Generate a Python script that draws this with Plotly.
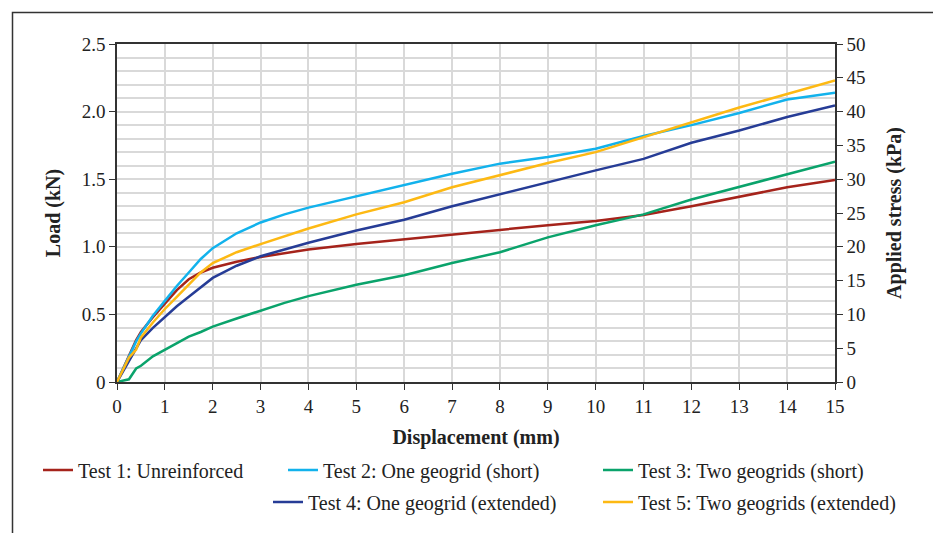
import plotly.graph_objects as go

disp = [0, 0.25, 0.4, 0.5, 0.75, 1, 1.25, 1.5, 1.75, 2, 2.5, 3, 3.5, 4, 5, 6, 7, 8, 9, 10, 11, 12, 13, 14, 15]

test1 = [0, 0.20, 0.31, 0.37, 0.48, 0.58, 0.68, 0.76, 0.81, 0.845, 0.89, 0.925, 0.955, 0.98, 1.02, 1.055, 1.09, 1.13, 1.16, 1.19, 1.235, 1.30, 1.37, 1.44, 1.495]
test2 = [0, 0.19, 0.30, 0.36, 0.49, 0.60, 0.71, 0.81, 0.91, 0.99, 1.10, 1.18, 1.24, 1.29, 1.375, 1.46, 1.54, 1.615, 1.665, 1.725, 1.82, 1.90, 1.99, 2.09, 2.14]
test3 = [0, 0.02, 0.10, 0.12, 0.19, 0.24, 0.29, 0.335, 0.37, 0.41, 0.47, 0.53, 0.585, 0.635, 0.72, 0.79, 0.88, 0.96, 1.07, 1.16, 1.24, 1.35, 1.445, 1.54, 1.63]
test4 = [0, 0.15, 0.24, 0.31, 0.40, 0.48, 0.56, 0.63, 0.70, 0.77, 0.86, 0.93, 0.98, 1.03, 1.12, 1.20, 1.30, 1.39, 1.48, 1.565, 1.65, 1.77, 1.86, 1.96, 2.045]
test5 = [0, 0.18, 0.24, 0.33, 0.44, 0.54, 0.63, 0.72, 0.81, 0.88, 0.96, 1.02, 1.08, 1.135, 1.24, 1.33, 1.44, 1.53, 1.62, 1.70, 1.81, 1.92, 2.03, 2.13, 2.23]

names = ["Test 1: Unreinforced", "Test 2: One geogrid (short)", "Test 3: Two geogrids (short)",
         "Test 4: One geogrid (extended)", "Test 5: Two geogrids (extended)"]
colors = ["#A5231B", "#12B2EC", "#0AA36B", "#263C96", "#FDB913"]
series = [test1, test2, test3, test4, test5]

FONT = "Liberation Serif"
fig = go.Figure()
for i, (nm, col, ys) in enumerate(zip(names, colors, series)):
    fig.add_trace(go.Scatter(x=disp, y=ys, mode="lines", name=nm,
                             line=dict(color=col, width=2.5),
                             legend="legend" if i == 0 else f"legend{i+1}"))
fig.add_trace(go.Scatter(x=[0], y=[0], yaxis="y2", mode="lines", showlegend=False,
                         line=dict(width=0), hoverinfo="skip"))

# figure is offset by the page's 8px body margin
W, H = 933, 525
L, R, T, B = 109, 827, 36, 374
pw, ph = R - L, B - T
def px(x): return (x - L) / pw
def py(y): return (B - y) / ph

leg_pos = [(30, 462), (275, 462), (590, 462), (260, 494), (590, 494)]
legends = {}
for i, (lx, ly) in enumerate(leg_pos):
    key = "legend" if i == 0 else f"legend{i+1}"
    legends[key] = dict(x=px(lx), y=py(ly), xanchor="left", yanchor="middle",
                        orientation="h", bgcolor="rgba(0,0,0,0)",
                        font=dict(family=FONT, size=20, color="#222"), itemwidth=30)

fig.update_layout(
    width=W, height=H,
    margin=dict(l=L, r=W - R, t=T, b=H - B),
    paper_bgcolor="white", plot_bgcolor="white",
    font=dict(family=FONT, size=19, color="#222"),
    xaxis=dict(range=[0, 15], dtick=1, tick0=0, showgrid=True, gridcolor="#D9D9D9", gridwidth=1.5,
               showline=True, linecolor="#333", linewidth=1.5, mirror=True,
               ticks="outside", ticklen=6, tickcolor="#333", zeroline=False,
               title=dict(text="<b>Displacement (mm)</b>", font=dict(family=FONT, size=20), standoff=14)),
    yaxis=dict(range=[0, 2.5], tickvals=[0, 0.5, 1, 1.5, 2, 2.5], ticktext=["0", "0.5", "1.0", "1.5", "2.0", "2.5"],
               showgrid=True, gridcolor="#D9D9D9", gridwidth=1.5,
               minor=dict(dtick=0.1, tick0=0, showgrid=True, gridcolor="#D9D9D9", gridwidth=1.5),
               showline=True, linecolor="#333", linewidth=1.5,
               ticks="outside", ticklen=6, tickcolor="#333", zeroline=False,
               title=dict(text="<b>Load (kN)</b>", font=dict(family=FONT, size=20), standoff=16)),
    yaxis2=dict(range=[0, 50], dtick=5, tick0=0, overlaying="y", side="right", showgrid=False,
                showline=True, linecolor="#333", linewidth=1.5,
                ticks="outside", ticklen=6, tickcolor="#333", zeroline=False,
                title=dict(text="<b>Applied stress (kPa)</b>", font=dict(family=FONT, size=20), standoff=22)),
    shapes=[dict(type="rect", xref="paper", yref="paper",
                 x0=px(4.5), x1=px(929.5), y0=py(560), y1=py(4.5),
                 line=dict(color="#333", width=1.5), fillcolor="rgba(0,0,0,0)", layer="below")],
    **legends,
)
fig.write_html("out.html")
